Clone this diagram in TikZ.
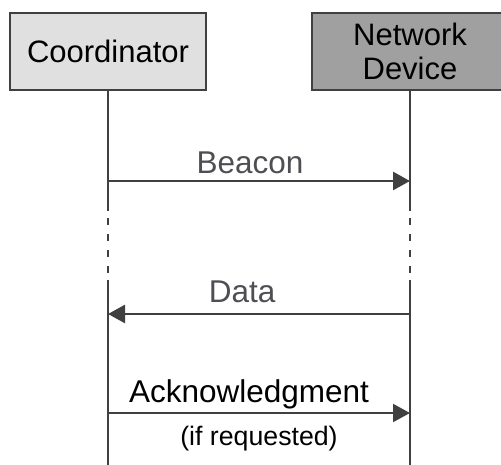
\documentclass[tikz,border=0pt]{standalone}
\usepackage{fontspec}
\setmainfont{Liberation Sans}
\usetikzlibrary{arrows.meta}
\definecolor{boxlight}{RGB}{224,224,224}
\definecolor{boxdark}{RGB}{160,160,160}
\definecolor{linegray}{RGB}{64,64,64}
\definecolor{labelgray}{RGB}{78,78,84}

\begin{document}
\begin{tikzpicture}[x=1pt, y=-1pt,
    entity/.style={draw=linegray, line width=1.5pt, minimum width=196pt, minimum height=77pt, inner sep=0pt, align=center, font=\fontsize{31}{34}\selectfont},
    life/.style={draw=linegray, line width=2pt},
    msg/.style={draw=linegray, line width=2.8pt, -{Triangle[length=17pt,width=18pt]}},
    msglabel/.style={inner sep=0pt, anchor=base, font=\fontsize{31.5}{32}\selectfont}]
        \useasboundingbox (0,0) rectangle (501,465);
        \node[entity, fill=boxlight](Coordinator) at (108,51.5) {Coordinator};
        \node[entity, fill=boxdark](Device) at (410,51.5) {Network\\Device};

        % rows of the lifelines
        \coordinate (gapTop) at (0,211);
        \coordinate (dashTop) at (0,218);
        \coordinate (dashEnd) at (0,273);
        \coordinate (gapEnd) at (0,280);
        \coordinate (bottom) at (0,470);

        \draw[life] (Coordinator) -- (Coordinator |- gapTop);
        \draw[life, dash pattern=on 7pt off 9pt] (Coordinator |- dashTop) -- (Coordinator |- dashEnd);
        \draw[life] (Coordinator |- gapEnd) -- (Coordinator |- bottom);
        \draw[life] (Device) -- (Device |- gapTop);
        \draw[life, dash pattern=on 7pt off 9pt] (Device |- dashTop) -- (Device |- dashEnd);
        \draw[life] (Device |- gapEnd) -- (Device |- bottom);

        % messages
        \coordinate (beacon) at (0,181);
        \coordinate (data) at (0,314);
        \coordinate (ack) at (0,413);

        \draw[msg] (Coordinator |- beacon) -- node[msglabel, pos=0.47, yshift=7pt, text=labelgray]{Beacon} (Device |- beacon);
        \draw[msg] (Device |- data) -- node[msglabel, pos=0.556, yshift=11pt, text=labelgray]{Data} (Coordinator |- data);
        \draw[msg, line width=2.2pt] (Coordinator |- ack) -- node[msglabel, pos=0.467, yshift=11pt]{Acknowledgment}
            node[below=12pt, inner sep=0pt, pos=0.5, font=\fontsize{26.7}{27}\selectfont]{(if requested)} (Device |- ack);
    \end{tikzpicture}
\end{document}
